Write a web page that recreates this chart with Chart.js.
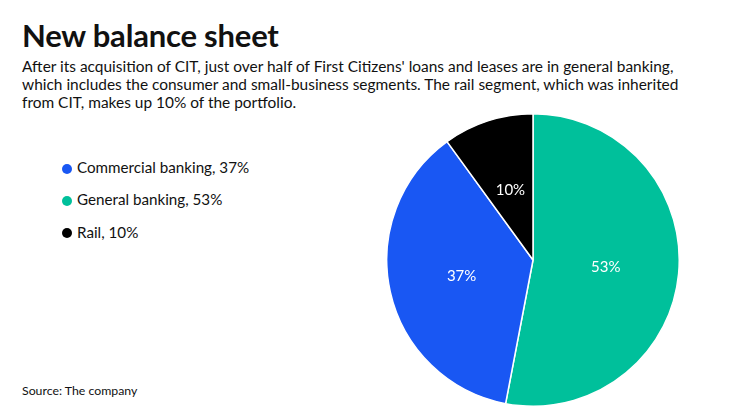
<!DOCTYPE html>
<html>
<head>
<meta charset="utf-8">
<script src="https://cdn.jsdelivr.net/npm/chart.js@4"></script>
<style>
  body { margin: 0; width: 740px; height: 416px; background: #fff; font-family: Lato, "Open Sans", sans-serif; color: #111; position: relative; overflow: hidden; }
  h1 { position: absolute; left: 22px; top: 16px; margin: 0; font-size: 31px; font-weight: 700; letter-spacing: -0.2px; }
  .sub { position: absolute; left: 22px; top: 57px; width: 688px; margin: 0; font-size: 15.45px; line-height: 18px; }
  .legend { position: absolute; left: 62px; top: 157px; font-size: 15.2px; }
  .legend div { height: 32.3px; line-height: 20px; }
  .legend span.dot { display: inline-block; width: 10px; height: 10px; border-radius: 50%; margin-right: 5px; vertical-align: -0.5px; }
  .source { position: absolute; left: 22px; top: 383px; font-size: 12.3px; }
  #wrap { position: absolute; left: 386px; top: 113px; width: 294px; height: 294px; }
</style>
</head>
<body>
<h1>New balance sheet</h1>
<p class="sub">After its acquisition of CIT, just over half of First Citizens' loans and leases are in general banking, which includes the consumer and small-business segments. The rail segment, which was inherited from CIT, makes up 10% of the portfolio.</p>
<div class="legend" id="legend"></div>
<div class="source">Source: The company</div>
<div id="wrap"><canvas id="myChart01" width="294" height="294"></canvas></div>
<script>
const categories = ['General banking', 'Commercial banking', 'Rail'];
const shares = [53, 37, 10];
const colors = ['#00C09B', '#1957F3', '#000000'];
const legendOrder = [1, 0, 2];

// legend built from the same arrays
const legend = document.getElementById('legend');
legendOrder.forEach(i => {
    const row = document.createElement('div');
    row.innerHTML = '<span class="dot" style="background:' + colors[i] + '"></span>' + categories[i] + ', ' + shares[i] + '%';
    legend.appendChild(row);
});

const sliceLabels = {
    id: 'sliceLabels',
    afterDatasetsDraw(chart) {
        const ctx = chart.ctx;
        ctx.save();
        ctx.fillStyle = '#fff';
        ctx.font = '15px Lato, sans-serif';
        ctx.textAlign = 'center';
        ctx.textBaseline = 'middle';
        chart.getDatasetMeta(0).data.forEach((arc, i) => {
            const p = arc.tooltipPosition();
            ctx.fillText(shares[i] + '%', p.x, p.y);
        });
        ctx.restore();
    }
};

new Chart(document.getElementById('myChart01'), {
    type: 'pie',
    data: {
        labels: categories,
        datasets: [{
            data: shares,
            backgroundColor: colors,
            borderColor: '#fff',
            borderWidth: 1.5,
            hoverOffset: 0
        }]
    },
    options: {
        responsive: false,
        animation: false,
        plugins: {
            legend: { display: false },
            tooltip: { enabled: false }
        }
    },
    plugins: [sliceLabels]
});
</script>
</body>
</html>
